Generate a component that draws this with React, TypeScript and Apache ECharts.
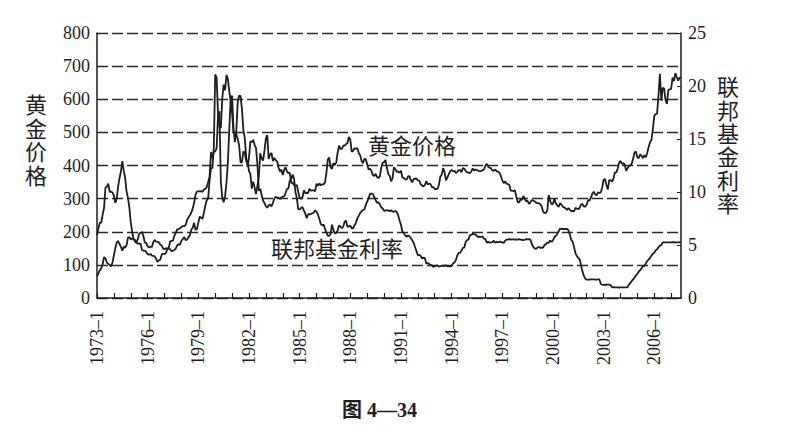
import React, { useEffect, useRef } from "react";
import * as echarts from "echarts";

// Monthly gold price (USD/oz), 1973-1 .. 2007-8 (left axis)
const goldPrice: number[] = [
  65, 74, 84, 90, 102, 123, 120, 107, 103, 100, 95, 107,
  129, 150, 168, 172, 163, 154, 143, 155, 152, 159, 182, 184,
  176, 180, 178, 170, 167, 164, 165, 163, 145, 143, 143, 139,
  132, 131, 133, 128, 127, 126, 118, 109, 114, 116, 131, 134,
  132, 136, 148, 149, 147, 141, 143, 145, 150, 159, 162, 161,
  173, 178, 184, 175, 176, 184, 189, 206, 212, 227, 206, 208,
  227, 246, 242, 239, 258, 279, 295, 301, 355, 392, 392, 455,
  675, 665, 554, 517, 514, 601, 644, 627, 674, 661, 624, 595,
  558, 500, 499, 495, 480, 461, 409, 410, 443, 438, 413, 410,
  384, 374, 330, 351, 334, 314, 339, 365, 437, 422, 415, 444,
  481, 492, 420, 433, 438, 413, 423, 416, 412, 394, 382, 388,
  371, 386, 395, 382, 377, 378, 348, 348, 341, 340, 341, 320,
  303, 299, 304, 325, 317, 317, 317, 330, 324, 325, 325, 322,
  345, 339, 346, 340, 343, 343, 349, 377, 418, 424, 395, 390,
  408, 401, 409, 439, 460, 450, 450, 460, 460, 465, 467, 486,
  478, 442, 444, 452, 451, 452, 438, 431, 414, 407, 420, 419,
  404, 388, 390, 384, 371, 368, 375, 365, 362, 367, 394, 409,
  410, 417, 393, 374, 369, 352, 361, 395, 389, 381, 382, 378,
  384, 364, 363, 358, 357, 367, 368, 356, 349, 359, 360, 361,
  355, 354, 344, 339, 337, 341, 353, 343, 345, 344, 335, 335,
  329, 329, 330, 342, 367, 372, 392, 379, 355, 364, 374, 383,
  387, 382, 384, 377, 381, 386, 386, 380, 392, 390, 384, 379,
  379, 377, 382, 391, 385, 388, 386, 384, 383, 383, 386, 388,
  400, 405, 396, 393, 392, 385, 384, 388, 383, 381, 378, 369,
  355, 347, 352, 345, 344, 341, 324, 324, 323, 325, 306, 289,
  289, 298, 296, 308, 299, 292, 293, 284, 289, 296, 294, 292,
  287, 287, 286, 283, 276, 261, 256, 257, 265, 311, 293, 283,
  284, 300, 286, 280, 275, 286, 282, 275, 274, 270, 266, 272,
  266, 262, 263, 261, 272, 270, 268, 272, 283, 283, 276, 276,
  282, 296, 294, 303, 315, 321, 313, 310, 319, 317, 319, 333,
  357, 359, 341, 328, 356, 356, 351, 360, 379, 379, 390, 408,
  414, 405, 407, 403, 384, 392, 398, 401, 405, 421, 439, 442,
  424, 423, 434, 429, 422, 431, 425, 438, 456, 470, 477, 510,
  550, 555, 557, 611, 677, 596, 634, 633, 598, 586, 628, 630,
  631, 665, 655, 679, 667, 656, 665, 665,
];

// Monthly federal funds rate (%), 1973-1 .. 2007-8 (right axis)
const fedFundsRate: number[] = [
  5.94, 6.58, 7.09, 7.12, 7.84, 8.49, 10.4, 10.5, 10.78, 10.01, 10.03, 9.95,
  9.65, 8.97, 9.35, 10.51, 11.31, 11.93, 12.92, 12.01, 11.34, 10.06, 9.45, 8.53,
  7.13, 6.24, 5.54, 5.49, 5.22, 5.55, 6.1, 6.14, 6.24, 5.82, 5.22, 5.2,
  4.87, 4.77, 4.84, 4.82, 5.29, 5.48, 5.31, 5.29, 5.25, 5.02, 4.95, 4.65,
  4.61, 4.68, 4.69, 4.73, 5.35, 5.39, 5.42, 5.9, 6.14, 6.47, 6.51, 6.56,
  6.7, 6.78, 6.79, 6.89, 7.36, 7.6, 7.81, 8.04, 8.45, 8.96, 9.76, 10.03,
  10.07, 10.06, 10.09, 10.01, 10.24, 10.29, 10.47, 10.94, 11.43, 13.77, 13.18, 13.78,
  13.82, 14.13, 17.19, 17.61, 10.98, 9.47, 9.03, 9.61, 10.87, 12.81, 15.85, 18.9,
  19.08, 15.93, 14.7, 15.72, 18.52, 19.1, 19.04, 17.82, 15.87, 15.08, 13.31, 12.37,
  13.22, 14.78, 14.68, 14.94, 14.45, 14.15, 12.59, 10.12, 10.31, 9.71, 9.2, 8.95,
  8.68, 8.51, 8.77, 8.8, 8.63, 8.98, 9.37, 9.56, 9.45, 9.48, 9.34, 9.47,
  9.56, 9.59, 9.91, 10.29, 10.32, 11.06, 11.23, 11.64, 11.3, 9.99, 9.43, 8.38,
  8.35, 8.5, 8.58, 8.27, 7.97, 7.53, 7.88, 7.9, 7.92, 7.99, 8.05, 8.27,
  8.14, 7.86, 7.48, 6.99, 6.85, 6.92, 6.56, 6.17, 5.89, 5.85, 6.04, 6.91,
  6.43, 6.1, 6.13, 6.37, 6.85, 6.73, 6.58, 6.73, 7.22, 7.29, 6.69, 6.77,
  6.83, 6.58, 6.58, 6.87, 7.09, 7.51, 7.75, 8.01, 8.19, 8.3, 8.35, 8.76,
  9.12, 9.36, 9.85, 9.84, 9.81, 9.53, 9.24, 8.99, 9.02, 8.84, 8.55, 8.45,
  8.23, 8.24, 8.28, 8.26, 8.18, 8.29, 8.15, 8.13, 8.2, 8.11, 7.81, 7.31,
  6.91, 6.25, 6.12, 5.91, 5.78, 5.9, 5.82, 5.66, 5.45, 5.21, 4.81, 4.43,
  4.03, 4.06, 3.98, 3.73, 3.82, 3.76, 3.25, 3.3, 3.22, 3.1, 3.09, 2.92,
  3.02, 3.03, 3.07, 2.96, 3.0, 3.04, 3.06, 3.03, 3.09, 2.99, 3.02, 2.96,
  3.05, 3.25, 3.34, 3.56, 4.01, 4.25, 4.26, 4.47, 4.73, 4.76, 5.29, 5.45,
  5.53, 5.92, 5.98, 6.05, 6.01, 6.0, 5.85, 5.74, 5.8, 5.76, 5.8, 5.6,
  5.56, 5.22, 5.31, 5.22, 5.24, 5.27, 5.4, 5.22, 5.3, 5.24, 5.31, 5.29,
  5.25, 5.19, 5.39, 5.51, 5.5, 5.56, 5.52, 5.54, 5.54, 5.5, 5.52, 5.5,
  5.56, 5.51, 5.49, 5.45, 5.49, 5.56, 5.54, 5.55, 5.51, 5.07, 4.83, 4.68,
  4.63, 4.76, 4.81, 4.74, 4.74, 4.76, 4.99, 5.07, 5.22, 5.2, 5.42, 5.3,
  5.45, 5.73, 5.85, 6.02, 6.27, 6.53, 6.54, 6.5, 6.52, 6.51, 6.51, 6.4,
  5.98, 5.49, 5.31, 4.8, 4.21, 3.97, 3.77, 3.65, 3.07, 2.49, 2.09, 1.82,
  1.73, 1.74, 1.73, 1.75, 1.75, 1.75, 1.73, 1.74, 1.75, 1.75, 1.34, 1.24,
  1.24, 1.26, 1.25, 1.26, 1.26, 1.22, 1.01, 1.03, 1.01, 1.01, 1.0, 0.98,
  1.0, 1.01, 1.0, 1.0, 1.0, 1.03, 1.26, 1.43, 1.61, 1.76, 1.93, 2.16,
  2.28, 2.5, 2.63, 2.79, 3.0, 3.04, 3.26, 3.5, 3.62, 3.78, 4.0, 4.16,
  4.29, 4.49, 4.59, 4.79, 4.94, 4.99, 5.24, 5.25, 5.25, 5.25, 5.25, 5.24,
  5.25, 5.26, 5.26, 5.25, 5.25, 5.25, 5.26, 5.25,
];

const startYear = 1973;
const monthCategories: string[] = goldPrice.map(
  (_, i) => `${startYear + Math.floor(i / 12)}–${(i % 12) + 1}`
);

const leftAxisTitle = "黄金价格";
const rightAxisTitle = "联邦基金利率";
const goldLabel = "黄金价格";
const fedLabel = "联邦基金利率";
const caption = "图 4—34";

const FONT = '"Liberation Serif", "Noto Sans CJK SC", serif';
const INK = "#1e1e1e";

export default function App() {
  const ref = useRef<HTMLDivElement>(null);

  useEffect(() => {
    if (!ref.current) return;
    const chart = echarts.init(ref.current, undefined, { renderer: "svg" });
    const vertical = (s: string) => s.split("").join("\n");
    chart.setOption({
      animation: false,
      backgroundColor: "#ffffff",
      grid: { left: 97, right: 113, top: 33, bottom: 143 },
      xAxis: {
        type: "category",
        data: monthCategories,
        boundaryGap: false,
        axisLine: { show: true, lineStyle: { color: INK, width: 1.5 } },
        axisTick: {
          show: true,
          inside: true,
          length: 5,
          interval: (index: number) => index % 12 === 0,
          lineStyle: { color: INK, width: 1.2 },
        },
        axisLabel: {
          interval: (index: number) => index % 36 === 0,
          rotate: 90,
          margin: 13,
          color: INK,
          fontFamily: FONT,
          fontSize: 18,
        },
        splitLine: { show: false },
      },
      yAxis: [
        {
          type: "value",
          min: 0,
          max: 800,
          interval: 100,
          axisLine: { show: true, lineStyle: { color: INK, width: 1.5 } },
          axisTick: { show: false },
          axisLabel: { color: INK, fontFamily: FONT, fontSize: 18, margin: 7 },
          splitLine: {
            show: true,
            lineStyle: { color: "#2a2a2a", width: 1.4, type: [11, 4] },
          },
        },
        {
          type: "value",
          min: 0,
          max: 25,
          interval: 5,
          position: "right",
          axisLine: { show: true, lineStyle: { color: INK, width: 1.5 } },
          axisTick: { show: true, inside: true, length: 4, lineStyle: { color: INK } },
          axisLabel: { color: INK, fontFamily: FONT, fontSize: 18, margin: 7 },
          splitLine: { show: false },
        },
      ],
      series: [
        {
          name: goldLabel,
          type: "line",
          yAxisIndex: 0,
          data: goldPrice,
          showSymbol: false,
          symbol: "none",
          lineStyle: { color: INK, width: 1.8 },
        },
        {
          name: fedLabel,
          type: "line",
          yAxisIndex: 1,
          data: fedFundsRate,
          showSymbol: false,
          symbol: "none",
          lineStyle: { color: INK, width: 1.8 },
        },
      ],
      graphic: [
        {
          type: "text",
          left: 25,
          top: 94,
          style: {
            text: vertical(leftAxisTitle),
            fontFamily: FONT,
            fontSize: 22,
            lineHeight: 23.5,
            fill: INK,
          },
        },
        {
          type: "text",
          left: 717,
          top: 76,
          style: {
            text: vertical(rightAxisTitle),
            fontFamily: FONT,
            fontSize: 22,
            lineHeight: 23.4,
            fill: INK,
          },
        },
        {
          type: "text",
          left: 368,
          top: 135,
          style: { text: goldLabel, fontFamily: FONT, fontSize: 22, fill: INK },
        },
        {
          type: "text",
          left: 271,
          top: 238,
          style: { text: fedLabel, fontFamily: FONT, fontSize: 22, fill: INK },
        },
        {
          type: "text",
          left: 342,
          top: 400,
          style: {
            text: caption,
            fontFamily: FONT,
            fontSize: 20,
            fontWeight: "bold",
            fill: INK,
          },
        },
      ],
    });
    return () => chart.dispose();
  }, []);

  return (
    <div
      ref={ref}
      style={{ position: "absolute", left: 0, top: 0, width: 794, height: 441 }}
    />
  );
}
